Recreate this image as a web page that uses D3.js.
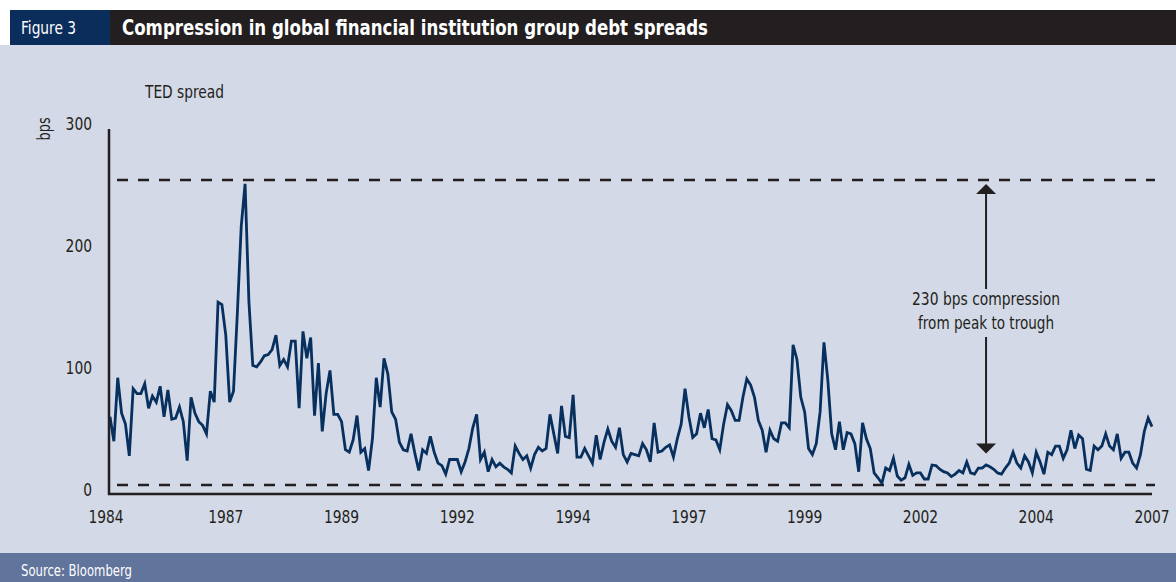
<!DOCTYPE html>
<html>
<head>
<meta charset="utf-8">
<script src="https://cdn.jsdelivr.net/npm/d3@7"></script>
<style>
  body { margin: 0; background: #fff; }
  svg { display: block; }
  text { font-family: "Liberation Sans Narrow", "Arial Narrow", "DejaVu Sans Condensed", sans-serif; }
</style>
</head>
<body>
<div id="chart"></div>
<script>
// TED spread, bps (roughly monthly points)
const tedSpread = [
  60, 40, 92, 63, 54, 28, 83, 79, 79, 87, 67, 77, 72, 85, 60, 82, 58, 59, 68, 56,
  24, 76, 63, 56, 53, 46, 81, 72, 154, 152, 127, 72, 81, 145, 216, 251, 154, 102, 101, 105,
  110, 111, 115, 127, 102, 107, 101, 122, 122, 67, 130, 108, 125, 61, 104, 48, 79, 98, 62, 62,
  56, 33, 31, 41, 61, 31, 34, 16, 42, 92, 68, 108, 95, 64, 58, 39, 33, 32, 46, 30,
  16, 33, 30, 44, 31, 22, 20, 13, 25, 25, 25, 15, 23, 34, 51, 62, 25, 31, 15, 25,
  19, 22, 19, 17, 14, 36, 30, 25, 28, 18, 29, 35, 32, 34, 62, 46, 30, 69, 44, 43,
  78, 27, 27, 34, 28, 22, 45, 25, 39, 50, 40, 35, 51, 29, 23, 30, 29, 28, 38, 33,
  23, 55, 31, 32, 35, 37, 27, 42, 54, 83, 60, 43, 46, 63, 51, 66, 42, 41, 33, 54,
  70, 65, 57, 57, 76, 91, 86, 76, 57, 49, 31, 49, 42, 40, 55, 55, 51, 119, 107, 76,
  64, 34, 29, 38, 64, 121, 90, 46, 33, 56, 33, 47, 46, 38, 15, 55, 42, 34, 14, 10,
  5.5, 18, 16, 26, 11.5, 8, 10, 21, 12, 14, 14, 9, 9, 20.5, 20, 17, 15, 14, 11, 13,
  16, 14, 23, 14, 13, 18, 18, 20.5, 19, 17, 14, 13, 18, 22, 31, 22, 18, 28, 23, 14,
  31, 23, 13, 31, 29, 36, 36, 26, 33, 49, 34, 45, 42, 17, 16, 36, 33, 36, 46, 36,
  33, 46, 26, 31, 31, 22, 18, 29, 48, 59, 52
];

const yearLabels = ["1984", "1987", "1989", "1992", "1994", "1997", "1999", "2002", "2004", "2007"];
const yTicks = [0, 100, 200, 300];

// peak and trough reference levels, bps
const peakLevel = 254;
const troughLevel = 4;

// annotation arrow
const arrowIndex = 227;
const arrowBottom = 30;
const annotationLines = ["230 bps compression", "from peak to trough"];

const width = 1176;
const height = 582;
const ink = "#231f20";
const navy = "#07305f";

// the reference face is a narrow Helvetica; squeeze the fallback font to its width
function squeeze(sel, perChar) {
  sel.attr("textLength", function () { return this.textContent.length * perChar; })
    .attr("lengthAdjust", "spacingAndGlyphs");
}

const svg = d3.select("#chart")
  .append("svg")
  .attr("width", width)
  .attr("height", height);

// Header and background
svg.append("rect").attr("x", 0).attr("y", 0).attr("width", width).attr("height", height).attr("fill", "#fff");
svg.append("rect").attr("x", 0).attr("y", 45).attr("width", width).attr("height", 508).attr("fill", "#d3d9e6");
svg.append("rect").attr("x", 0).attr("y", 553).attr("width", width).attr("height", 29).attr("fill", "#61749c");
svg.append("rect").attr("x", 10).attr("y", 10).attr("width", 100).attr("height", 35).attr("fill", "#0a2d5c");
svg.append("rect").attr("x", 110).attr("y", 10).attr("width", width - 110).attr("height", 35).attr("fill", ink);

svg.append("text")
  .attr("x", 21).attr("y", 34)
  .attr("fill", "#fff")
  .attr("font-size", 18)
  .attr("textLength", 55)
  .attr("lengthAdjust", "spacingAndGlyphs")
  .text("Figure 3");

svg.append("text")
  .attr("x", 122).attr("y", 35)
  .attr("fill", "#fff")
  .attr("font-size", 21)
  .attr("font-weight", "bold")
  .attr("textLength", 586)
  .attr("lengthAdjust", "spacingAndGlyphs")
  .text("Compression in global financial institution group debt spreads");

svg.append("text")
  .attr("x", 21).attr("y", 576)
  .attr("fill", "#fff")
  .attr("font-size", 15)
  .attr("textLength", 111)
  .attr("lengthAdjust", "spacingAndGlyphs")
  .text("Source: Bloomberg");

// Scales
const x = d3.scaleLinear().domain([0, tedSpread.length - 1]).range([110, 1152]);
const y = d3.scaleLinear().domain([0, 300]).range([490, 124]);

// Y axis labels
const yAxis = svg.append("g")
  .attr("transform", "translate(109,0)")
  .call(d3.axisLeft(y).tickValues(yTicks).tickSize(0).tickPadding(17));
yAxis.select(".domain").remove();
yAxis.selectAll("text")
  .attr("font-size", 18)
  .attr("fill", ink)
  .style("font-family", "'Liberation Sans Narrow', 'Arial Narrow', 'DejaVu Sans Condensed', sans-serif")
  .call(squeeze, 8.8);

svg.append("text")
  .attr("transform", `translate(50,${y(296)}) rotate(-90)`)
  .attr("text-anchor", "middle")
  .attr("font-size", 17)
  .attr("fill", ink)
  .attr("textLength", 23)
  .attr("lengthAdjust", "spacingAndGlyphs")
  .text("bps");

svg.append("text")
  .attr("x", 145).attr("y", 98)
  .attr("font-size", 18)
  .attr("fill", ink)
  .attr("textLength", 79)
  .attr("lengthAdjust", "spacingAndGlyphs")
  .text("TED spread");

// X labels, spread evenly along the series
const step = (tedSpread.length - 1) / (yearLabels.length - 1);
svg.append("g")
  .selectAll("text")
  .data(yearLabels)
  .join("text")
  .attr("x", (d, i) => x(i * step) - (i === 0 ? 4 : 0))
  .attr("y", 523)
  .attr("text-anchor", "middle")
  .attr("font-size", 18)
  .attr("fill", ink)
  .text(d => d)
  .call(squeeze, 8.8);

// Dashed peak / trough lines
svg.append("g")
  .selectAll("line")
  .data([peakLevel, troughLevel])
  .join("line")
  .attr("x1", 117).attr("x2", 1155)
  .attr("y1", d => y(d)).attr("y2", d => y(d))
  .attr("stroke", ink)
  .attr("stroke-width", 2.5)
  .attr("stroke-dasharray", "11,10");

// Series line
const line = d3.line()
  .x((d, i) => x(i))
  .y(d => y(d));

svg.append("path")
  .datum(tedSpread)
  .attr("fill", "none")
  .attr("stroke", navy)
  .attr("stroke-width", 2.8)
  .attr("stroke-linejoin", "miter")
  .attr("d", line);

// Axis lines
svg.append("line")
  .attr("x1", 109).attr("x2", 109)
  .attr("y1", 129).attr("y2", 495)
  .attr("stroke", ink).attr("stroke-width", 2.5);
svg.append("line")
  .attr("x1", 108).attr("x2", 1152)
  .attr("y1", 494).attr("y2", 494)
  .attr("stroke", ink).attr("stroke-width", 2.5);

// Annotation: double arrow with text in the middle
const ax = x(arrowIndex);
const topTip = y(peakLevel) + 4;
const botTip = y(arrowBottom);
const ann = svg.append("g");

ann.append("line")
  .attr("x1", ax).attr("x2", ax)
  .attr("y1", topTip + 8).attr("y2", 289)
  .attr("stroke", ink).attr("stroke-width", 2);
ann.append("line")
  .attr("x1", ax).attr("x2", ax)
  .attr("y1", 337).attr("y2", botTip - 8)
  .attr("stroke", ink).attr("stroke-width", 2);
ann.append("path")
  .attr("d", `M${ax},${topTip} L${ax - 10},${topTip + 10} L${ax + 10},${topTip + 10} Z`)
  .attr("fill", ink);
ann.append("path")
  .attr("d", `M${ax},${botTip} L${ax - 10},${botTip - 10} L${ax + 10},${botTip - 10} Z`)
  .attr("fill", ink);

ann.selectAll("text")
  .data(annotationLines)
  .join("text")
  .attr("x", ax)
  .attr("y", (d, i) => 305 + i * 24)
  .attr("text-anchor", "middle")
  .attr("font-size", 17)
  .attr("fill", ink)
  .attr("textLength", (d, i) => i === 0 ? 148 : 136)
  .attr("lengthAdjust", "spacingAndGlyphs")
  .text(d => d);
</script>
</body>
</html>
